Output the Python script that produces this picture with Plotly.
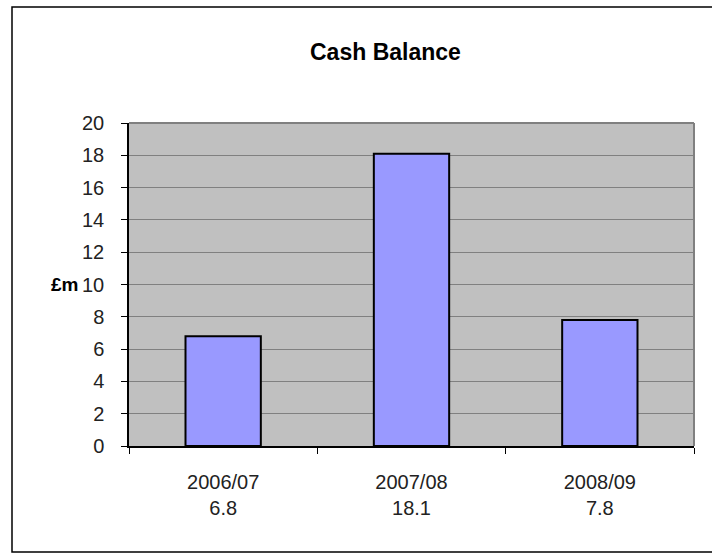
import plotly.graph_objects as go

years = ["2006/07", "2007/08", "2008/09"]
values = [6.8, 18.1, 7.8]
tick_vals = [0, 2, 4, 6, 8, 10, 12, 14, 16, 18, 20]

labels = [f"{y}<br>{v}" for y, v in zip(years, values)]

fig = go.Figure()
fig.add_trace(go.Bar(
    x=labels, y=values,
    marker=dict(color="#9999FF", line=dict(color="black", width=2)),
    width=0.4,
    hoverinfo="skip",
))

W, H = 712, 554
L, R, T, B = 129, 18, 123, 108
pw, ph = W - L - R, H - T - B

def px_x(x):
    return (x - L) / pw

def px_y(y):
    return (H - B - y) / ph

fig.update_layout(
    width=W, height=H,
    margin=dict(l=L, r=R, t=T, b=B),
    paper_bgcolor="white",
    plot_bgcolor="#C0C0C0",
    showlegend=False,
    font=dict(family="Liberation Sans, Arial, sans-serif", size=20, color="black"),
    xaxis=dict(
        type="category",
        showline=True, linecolor="black", linewidth=1.5,
        ticks="outside", tickson="boundaries", ticklen=6, tickcolor="black",
        showgrid=False,
        ticklabelstandoff=17,
        tickfont=dict(size=20, color="#222"),
    ),
    yaxis=dict(
        range=[0, 20],
        tickvals=tick_vals,
        showline=True, linecolor="black", linewidth=1.5,
        ticks="outside", ticklen=6, tickcolor="black",
        showgrid=True, gridcolor="#808080", gridwidth=1,
        zeroline=False,
        ticklabelstandoff=13,
        tickfont=dict(size=20, color="#222"),
    ),
    shapes=[
        dict(type="line", xref="paper", yref="paper", x0=1, x1=1, y0=0, y1=1,
             line=dict(color="#808080", width=2)),
        dict(type="line", xref="paper", yref="paper", x0=0, x1=1, y0=1, y1=1,
             line=dict(color="#808080", width=2)),
        dict(type="rect", xref="paper", yref="paper",
             x0=px_x(12), x1=px_x(730), y0=px_y(552), y1=px_y(7),
             line=dict(color="black", width=1.5), layer="below"),
    ],
    annotations=[
        dict(text="<b>Cash Balance</b>", xref="paper", yref="paper",
             x=px_x(385), y=px_y(52), xanchor="center", yanchor="middle",
             showarrow=False, font=dict(size=23, color="black")),
        dict(text="<b>£m</b>", xref="paper", yref="paper",
             x=px_x(80), y=px_y(284), xanchor="right", yanchor="middle",
             showarrow=False, font=dict(size=19, color="black")),
    ],
)

fig.write_html("out.html", config={"displayModeBar": False},
               post_script="document.body.style.margin='0';")
